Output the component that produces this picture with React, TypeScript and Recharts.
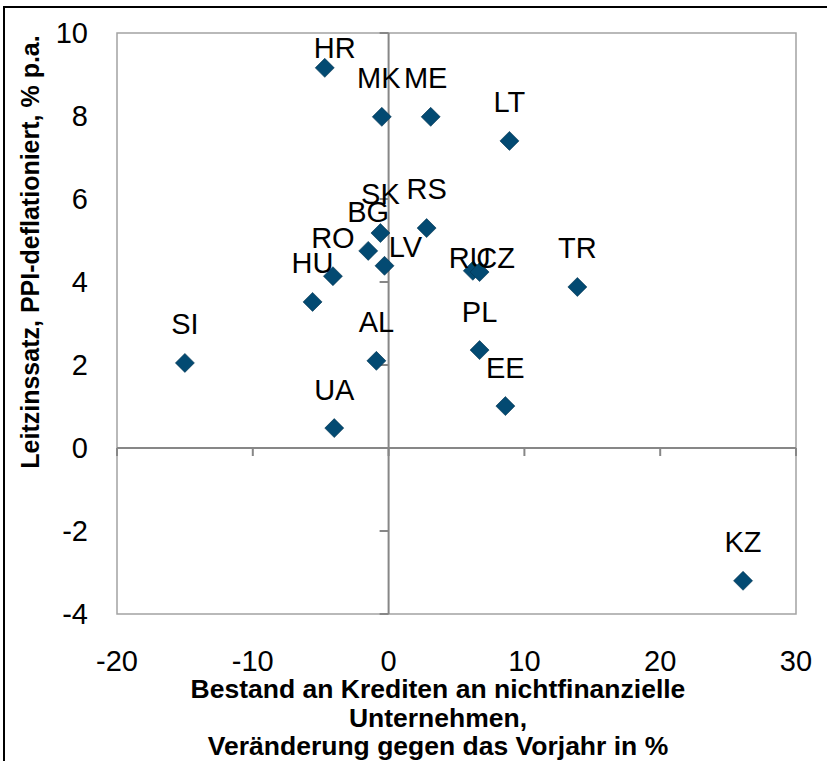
import React from "react";
import {
  ScatterChart,
  Scatter,
  XAxis,
  YAxis,
  ReferenceLine,
  ReferenceArea,
  ReferenceDot,
} from "recharts";

const countries = ["HR", "MK", "ME", "LT", "SK", "RS", "BG", "LV", "RO", "HU", "RU", "CZ", "TR", "PL", "AL", "SI", "EE", "UA", "KZ"];
const creditGrowth = [-4.7, -0.5, 3.1, 8.9, -0.6, 2.8, -1.5, -0.3, -4.1, -5.6, 6.2, 6.7, 13.9, 6.7, -0.9, -15.0, 8.6, -4.0, 26.1];
const policyRate = [9.16, 7.98, 7.98, 7.4, 5.18, 5.3, 4.75, 4.39, 4.14, 3.52, 4.27, 4.24, 3.88, 2.36, 2.1, 2.05, 1.01, 0.48, -3.2];
const xTicks = [-20, -10, 0, 10, 20, 30];
const yTicks = [-4, -2, 0, 2, 4, 6, 8, 10];

const FONT = "'Liberation Sans', Arial, sans-serif";
const MARKER = "#034a72";
const ZERO_LINE = "#878787";

// label nudges (px) where the labels were moved by hand in the original
const labelShift: Record<string, [number, number]> = {
  HR: [10, -20],
  LV: [21, -19],
  RU: [-3, -13],
  CZ: [16, -14],
  MK: [-3, -39],
  ME: [-5, -39],
};

const points = countries.map((name, i) => ({
  name,
  x: creditGrowth[i],
  y: policyRate[i],
}));

function Diamond(props: any) {
  const { cx, cy, payload } = props;
  const [dx, dy] = labelShift[payload.name] || [0, -39];
  const r = 9.5;
  return (
    <g>
      <polygon
        points={`${cx},${cy - r} ${cx + r},${cy} ${cx},${cy + r} ${cx - r},${cy}`}
        fill={MARKER}
        stroke="#02324f"
        strokeWidth={0.6}
      />
      <text
        x={cx + dx}
        y={cy + dy}
        dy="0.36em"
        textAnchor="middle"
        fontFamily={FONT}
        fontSize={29}
        fill="#000"
      >
        {payload.name}
      </text>
    </g>
  );
}

function XTitle() {
  return (
    <text textAnchor="middle" fontFamily={FONT} fontSize={26.5} fontWeight="bold" fill="#000">
      <tspan x={438} y={698}>Bestand an Krediten an nichtfinanzielle</tspan>
      <tspan x={438} y={727}>Unternehmen,</tspan>
      <tspan x={438} y={755}>Veränderung gegen das Vorjahr in %</tspan>
    </text>
  );
}

function YTitle() {
  return (
    <text
      x={30}
      y={252}
      transform="rotate(-90 30 252)"
      dy="0.36em"
      textAnchor="middle"
      fontFamily={FONT}
      fontSize={25}
      fontWeight="bold"
      fill="#000"
    >
      Leitzinssatz, PPI-deflationiert, % p.a.
    </text>
  );
}

export default function App() {
  return (
    <div
      style={{
        position: "absolute",
        left: 0,
        top: 0,
        width: 827,
        height: 761,
        background: "#fff",
        overflow: "hidden",
      }}
    >
      <div
        style={{
          position: "absolute",
          left: 3,
          top: 6,
          width: 900,
          height: 900,
          border: "2px solid #000",
        }}
      />
      <div style={{ position: "absolute", left: 0, top: 0 }}>
        <ScatterChart
          width={827}
          height={761}
          margin={{ top: 33, right: 31, bottom: 97, left: 57 }}
        >
          <XAxis
            type="number"
            dataKey="x"
            domain={[-20, 30]}
            ticks={xTicks}
            axisLine={false}
            tickLine={false}
            tickSize={0}
            tickMargin={36}
            height={50}
            tick={{ fontSize: 29, fill: "#000", fontFamily: FONT }}
            label={{ content: () => <XTitle /> }}
          />
          <YAxis
            type="number"
            dataKey="y"
            domain={[-4, 10]}
            ticks={yTicks}
            axisLine={false}
            tickLine={false}
            tickSize={0}
            tickMargin={29}
            width={60}
            tick={{ fontSize: 29, fill: "#000", fontFamily: FONT }}
            label={{ content: () => <YTitle /> }}
          />
          <ReferenceArea
            x1={-20}
            x2={30}
            y1={-4}
            y2={10}
            fill="none"
            stroke="#a3a3a3"
            strokeWidth={1.5}
          />
          <ReferenceLine x={0} stroke={ZERO_LINE} strokeWidth={2} />
          <ReferenceLine y={0} stroke={ZERO_LINE} strokeWidth={2} />
          {xTicks.map((t) => (
            <ReferenceDot
              key={"xt" + t}
              x={t}
              y={0}
              r={0}
              shape={(p: any) => (
                <line x1={p.cx} x2={p.cx} y1={p.cy} y2={p.cy + 8} stroke={ZERO_LINE} strokeWidth={2} />
              )}
            />
          ))}
          {yTicks.map((t) => (
            <ReferenceDot
              key={"yt" + t}
              x={0}
              y={t}
              r={0}
              shape={(p: any) => (
                <line x1={p.cx - 9} x2={p.cx} y1={p.cy} y2={p.cy} stroke={ZERO_LINE} strokeWidth={2} />
              )}
            />
          ))}
          <Scatter data={points} shape={Diamond} isAnimationActive={false} />
        </ScatterChart>
      </div>
    </div>
  );
}
